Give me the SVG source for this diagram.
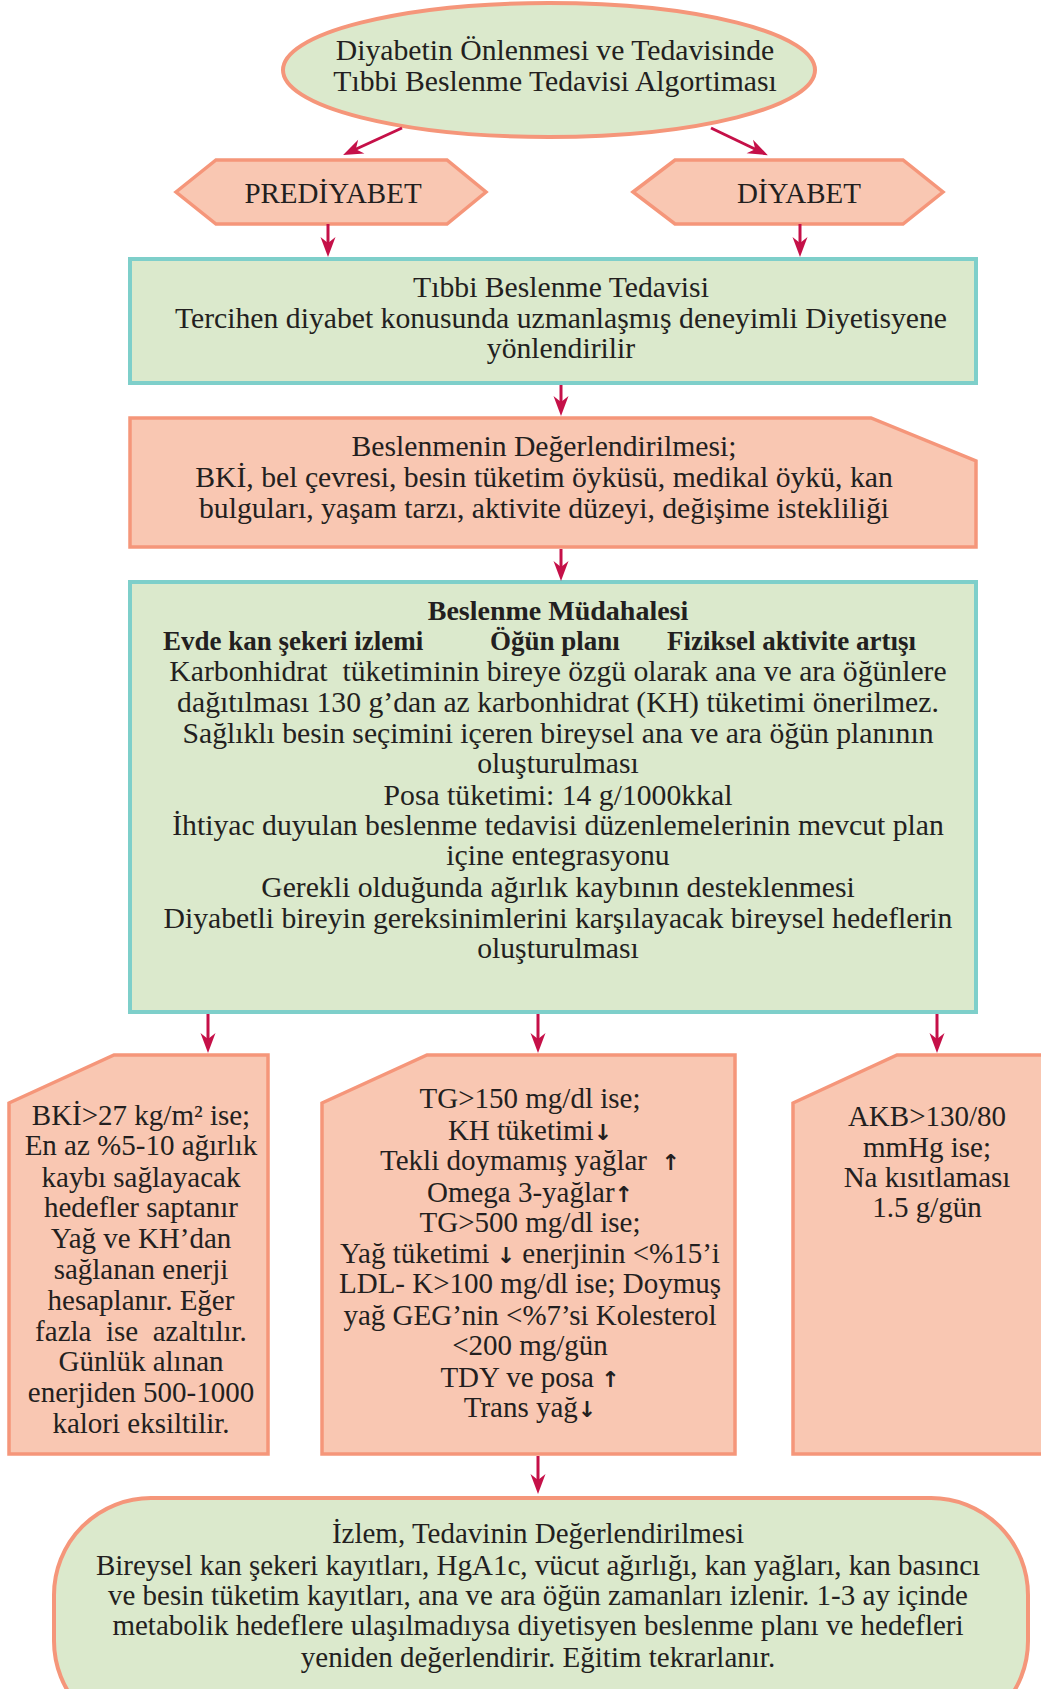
<svg xmlns="http://www.w3.org/2000/svg" width="1041" height="1689" viewBox="0 0 1041 1689">
<style>
text{font-family:"Liberation Serif","Times New Roman",serif;font-size:29px;fill:#231f20;text-anchor:middle}
.l{font-size:29.7px}
.b{font-weight:bold;font-size:27px;text-anchor:start}
.pink{fill:#f9c7b2;stroke:#f5967a;stroke-width:3.5}
.green{fill:#dbe9cc;stroke:#7ecfca;stroke-width:4}
.greenp{fill:#dbe9cc;stroke:#f5967a;stroke-width:4}
.ar{font-family:"DejaVu Sans",sans-serif;font-weight:bold;font-size:22px}
.conn line{stroke:#c51048;stroke-width:3;marker-end:url(#ah)}
</style>
<defs>
<marker id="ah" markerUnits="userSpaceOnUse" markerWidth="24" markerHeight="18" viewBox="-10 -9 24 18" refX="0" refY="0" orient="auto">
<path d="M12,0 L-8,-7.5 L-2,0 L-8,7.5 Z" fill="#c51048"/>
</marker>
</defs>
<rect width="1041" height="1689" fill="#ffffff"/>

<g id="start">
<ellipse class="greenp" cx="549" cy="70" rx="266" ry="67"/>
<text class="l" x="555" y="60">Diyabetin Önlenmesi ve Tedavisinde</text>
<text class="l" x="555" y="91">Tıbbi Beslenme Tedavisi Algortiması</text>
</g>

<g id="prediyabet">
<polygon class="pink" points="176,192 216,160 447,160 486,192 447,224 216,224"/>
<text x="333" y="203">PREDİYABET</text>
</g>

<g id="diyabet">
<polygon class="pink" points="633,192 675,160 903,160 943,192 903,224 675,224"/>
<text x="799" y="203">DİYABET</text>
</g>

<g id="tbt">
<rect class="green" x="130" y="259" width="846" height="124"/>
<text class="l" x="561" y="297">Tıbbi Beslenme Tedavisi</text>
<text class="l" x="561" y="328">Tercihen diyabet konusunda uzmanlaşmış deneyimli Diyetisyene</text>
<text class="l" x="561" y="358">yönlendirilir</text>
</g>

<g id="degerlendirme">
<polygon class="pink" points="130,418 871,418 976,461 976,547 130,547"/>
<text class="l" x="544" y="456">Beslenmenin Değerlendirilmesi;</text>
<text class="l" x="544" y="487">BKİ, bel çevresi, besin tüketim öyküsü, medikal öykü, kan</text>
<text class="l" x="544" y="518">bulguları, yaşam tarzı, aktivite düzeyi, değişime istekliliği</text>
</g>

<g id="mudahale">
<rect class="green" x="130" y="582" width="846" height="430"/>
<text x="558" y="620" style="font-weight:bold;font-size:28px">Beslenme Müdahalesi</text>
<text class="b" x="163" y="650">Evde kan şekeri izlemi</text>
<text class="b" x="490" y="650">Öğün planı</text>
<text class="b" x="667" y="650">Fiziksel aktivite artışı</text>
<text class="l" x="558" y="681" style="white-space:pre">Karbonhidrat  tüketiminin bireye özgü olarak ana ve ara öğünlere</text>
<text class="l" x="558" y="712">dağıtılması 130 g’dan az karbonhidrat (KH) tüketimi önerilmez.</text>
<text class="l" x="558" y="743">Sağlıklı besin seçimini içeren bireysel ana ve ara öğün planının</text>
<text class="l" x="558" y="773">oluşturulması</text>
<text class="l" x="558" y="805">Posa tüketimi: 14 g/1000kkal</text>
<text class="l" x="558" y="835">İhtiyac duyulan beslenme tedavisi düzenlemelerinin mevcut plan</text>
<text class="l" x="558" y="865">içine entegrasyonu</text>
<text class="l" x="558" y="897">Gerekli olduğunda ağırlık kaybının desteklenmesi</text>
<text class="l" x="558" y="928">Diyabetli bireyin gereksinimlerini karşılayacak bireysel hedeflerin</text>
<text class="l" x="558" y="958">oluşturulması</text>
</g>

<g id="kilo">
<polygon class="pink" points="9,1103 114,1055 268,1055 268,1454 9,1454"/>
<text x="141" y="1125">BKİ&gt;27 kg/m² ise;</text>
<text x="141" y="1155">En az %5-10 ağırlık</text>
<text x="141" y="1187">kaybı sağlayacak</text>
<text x="141" y="1217">hedefler saptanır</text>
<text x="141" y="1248">Yağ ve KH’dan</text>
<text x="141" y="1279">sağlanan enerji</text>
<text x="141" y="1310">hesaplanır. Eğer</text>
<text x="141" y="1341" style="white-space:pre">fazla  ise  azaltılır.</text>
<text x="141" y="1371">Günlük alınan</text>
<text x="141" y="1402">enerjiden 500-1000</text>
<text x="141" y="1433">kalori eksiltilir.</text>
</g>

<g id="lipid">
<polygon class="pink" points="322,1103 427,1055 735,1055 735,1454 322,1454"/>
<text x="530" y="1108">TG&gt;150 mg/dl ise;</text>
<text x="530" y="1140">KH tüketimi<tspan class="ar">↓</tspan></text>
<text x="530" y="1170" style="white-space:pre">Tekli doymamış yağlar  <tspan class="ar">↑</tspan></text>
<text x="530" y="1202">Omega 3-yağlar<tspan class="ar">↑</tspan></text>
<text x="530" y="1232">TG&gt;500 mg/dl ise;</text>
<text x="530" y="1263">Yağ tüketimi <tspan class="ar">↓</tspan> enerjinin &lt;%15’i</text>
<text x="530" y="1293">LDL- K&gt;100 mg/dl ise; Doymuş</text>
<text x="530" y="1325">yağ GEG’nin &lt;%7’si Kolesterol</text>
<text x="530" y="1355">&lt;200 mg/gün</text>
<text x="530" y="1387">TDY ve posa <tspan class="ar">↑</tspan></text>
<text x="530" y="1417">Trans yağ<tspan class="ar">↓</tspan></text>
</g>

<g id="tansiyon">
<polygon class="pink" points="793,1103 897,1055 1050,1055 1050,1454 793,1454"/>
<text x="927" y="1126">AKB&gt;130/80</text>
<text x="927" y="1157">mmHg ise;</text>
<text x="927" y="1187">Na kısıtlaması</text>
<text x="927" y="1217">1.5 g/gün</text>
</g>

<g id="izlem">
<rect class="greenp" x="54" y="1498" width="974" height="240" rx="97" ry="97"/>
<text x="538" y="1543">İzlem, Tedavinin Değerlendirilmesi</text>
<text x="538" y="1575">Bireysel kan şekeri kayıtları, HgA1c, vücut ağırlığı, kan yağları, kan basıncı</text>
<text x="538" y="1605">ve besin tüketim kayıtları, ana ve ara öğün zamanları izlenir. 1-3 ay içinde</text>
<text x="538" y="1635">metabolik hedeflere ulaşılmadıysa diyetisyen beslenme planı ve hedefleri</text>
<text x="538" y="1667">yeniden değerlendirir. Eğitim tekrarlanır.</text>
</g>

<g id="connectors" class="conn">
<line x1="402" y1="128" x2="354" y2="150"/>
<line x1="711" y1="128" x2="757" y2="150"/>
<line x1="328" y1="224" x2="328" y2="245"/>
<line x1="800" y1="224" x2="800" y2="245"/>
<line x1="561" y1="385" x2="561" y2="404"/>
<line x1="561" y1="549" x2="561" y2="569"/>
<line x1="208" y1="1014" x2="208" y2="1041"/>
<line x1="538" y1="1014" x2="538" y2="1041"/>
<line x1="937" y1="1014" x2="937" y2="1041"/>
<line x1="538" y1="1456" x2="538" y2="1482"/>
</g>
</svg>
